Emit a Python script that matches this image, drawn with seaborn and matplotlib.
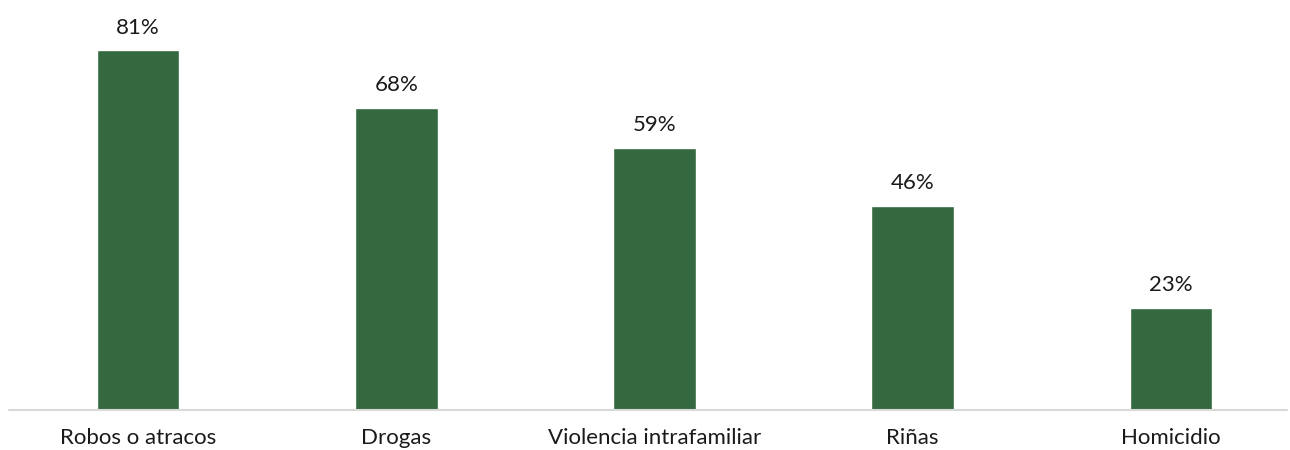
import matplotlib
matplotlib.use('Agg')
import matplotlib.pyplot as plt
import seaborn as sns
import pandas as pd

categories = ['Robos o atracos', 'Drogas', 'Violencia intrafamiliar', 'Riñas', 'Homicidio']
values = [81, 68, 59, 46, 23]

sns.set_style('white')
plt.rcParams['font.family'] = ['Lato', 'DejaVu Sans']

df = pd.DataFrame({'categoria': categories, 'valor': values})

fig = plt.figure(figsize=(12.9, 4.5), dpi=100)
# axes a bit wider than the figure so the category spacing matches
ax = fig.add_axes([9 / 1290, 40 / 450, 1291 / 1290, 400 / 450])

sns.barplot(data=df, x='categoria', y='valor', color='#346940', width=0.32,
            saturation=1, ax=ax)

for p, v in zip(ax.patches, values):
    ax.annotate(f'{v}%', xy=(p.get_x() + p.get_width() / 2, p.get_height()),
                xytext=(0, 9), textcoords='offset points',
                ha='center', va='bottom', fontsize=16, color='#1a1a1a')

ax.set_ylim(0, 90)
ax.set_xlabel('')
ax.set_ylabel('')
ax.set_yticks([])
ax.tick_params(axis='x', length=0, labelsize=16, pad=13, colors='#1a1a1a')
sns.despine(ax=ax, left=True, bottom=True)
ax.axhline(0, xmin=0, xmax=(1287 - 9) / 1291, color='#d9d9d9', lw=1.5,
           clip_on=False)

plt.savefig('out.png', dpi=100)
plt.close()
